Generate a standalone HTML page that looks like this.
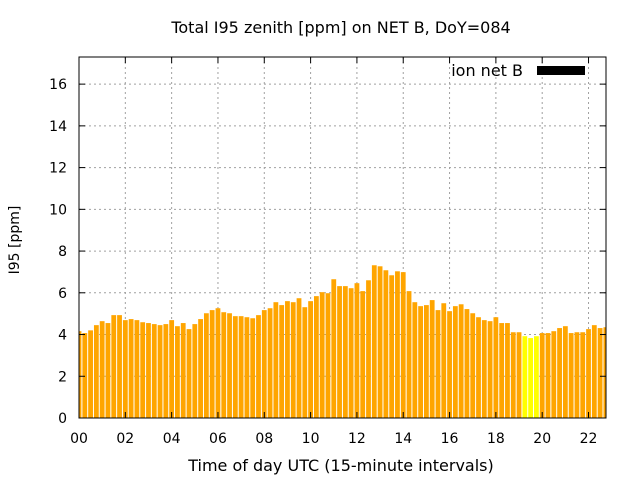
<!DOCTYPE html>
<html><head><meta charset="utf-8"><style>
body{margin:0;background:#fff}
svg{display:block;font-family:"DejaVu Sans","Liberation Sans",sans-serif}
</style></head><body>
<svg id="chart" width="640" height="480" xmlns="http://www.w3.org/2000/svg">
<rect width="640" height="480" fill="#fff"/>
<defs><clipPath id="plotclip"><rect x="79" y="57" width="527" height="361"/></clipPath></defs>
<text x="341" y="33" font-size="16" text-anchor="middle">Total I95 zenith [ppm] on NET B, DoY=084</text>
<text x="341" y="471" font-size="16" text-anchor="middle">Time of day UTC (15-minute intervals)</text>
<text transform="translate(19,240) rotate(-90)" font-size="14" text-anchor="middle">I95 [ppm]</text>
<g id="grid"></g><g id="bars" clip-path="url(#plotclip)"></g><g id="axes"></g>
<g>
<text x="523" y="76" font-size="16" text-anchor="end">ion net B</text>
<rect x="537" y="66" width="48" height="9" fill="#000"/>
</g>
</svg>
<script>
const values=[4.16,4.07,4.2,4.45,4.64,4.55,4.93,4.93,4.69,4.74,4.69,4.59,4.55,4.5,4.45,4.5,4.69,4.4,4.55,4.26,4.5,4.74,5.02,5.17,5.26,5.07,5.02,4.88,4.88,4.83,4.78,4.93,5.17,5.26,5.55,5.41,5.6,5.55,5.74,5.31,5.6,5.84,6.03,5.98,6.65,6.32,6.32,6.22,6.46,6.08,6.6,7.32,7.27,7.08,6.84,7.03,6.99,6.08,5.55,5.36,5.41,5.65,5.17,5.5,5.12,5.36,5.45,5.22,5.02,4.83,4.69,4.64,4.83,4.55,4.55,4.11,4.11,3.92,3.83,3.92,4.07,4.07,4.16,4.31,4.4,4.07,4.11,4.11,4.26,4.45,4.31,4.35];
const highlighted=[77,78,79];
const yTicks=[0,2,4,6,8,10,12,14,16];
const xTickLabels=["00","02","04","06","08","10","12","14","16","18","20","22"];
const NS="http://www.w3.org/2000/svg";
const L=79,R=606,T=57,B=418,yMax=17.3,slot=5.79;
const xs=i=>L+i*slot;
const ys=v=>B-(v/yMax)*(B-T);
function mk(tag,attrs,parent){const e=document.createElementNS(NS,tag);for(const k in attrs)e.setAttribute(k,attrs[k]);parent.appendChild(e);return e;}
const grid=document.getElementById('grid'),bars=document.getElementById('bars'),axes=document.getElementById('axes');
yTicks.forEach(t=>{
  const y=ys(t);
  if(t>0){const g=mk('line',{x1:L,x2:R,y1:y,y2:y,stroke:'#a0a0a0','stroke-dasharray':'2,3'},grid);
  
  }
  const tx=mk('text',{x:L-12,y:y+5,'font-size':14,'text-anchor':'end'},axes);tx.textContent=t;
  
  
  mk('line',{x1:L,x2:L+6,y1:y,y2:y,stroke:'#000'},axes);
  mk('line',{x1:R,x2:R-6,y1:y,y2:y,stroke:'#000'},axes);
});
xTickLabels.forEach((lab,k)=>{
  const x=xs(k*8);
  if(k>0){const g=mk('line',{x1:x,x2:x,y1:T,y2:B,stroke:'#a0a0a0','stroke-dasharray':'2,3'},grid);
  
  }
  const tx=mk('text',{x:x,y:443,'font-size':14,'text-anchor':'middle'},axes);tx.textContent=lab;
  
  
  mk('line',{x1:x,x2:x,y1:B,y2:B-6,stroke:'#000'},axes);
  mk('line',{x1:x,x2:x,y1:T,y2:T+6,stroke:'#000'},axes);
});
values.forEach((v,i)=>{
  const r=mk('rect',{x:xs(i)-2.4,y:ys(v),width:4.8,height:B-ys(v),fill:highlighted.includes(i)?'#ffff00':'#ffa500'},bars);
  
  
});
const frame=mk('rect',{x:L,y:T,width:R-L,height:B-T,fill:'none',stroke:'#000','stroke-width':1},axes);


</script>
</body></html>
